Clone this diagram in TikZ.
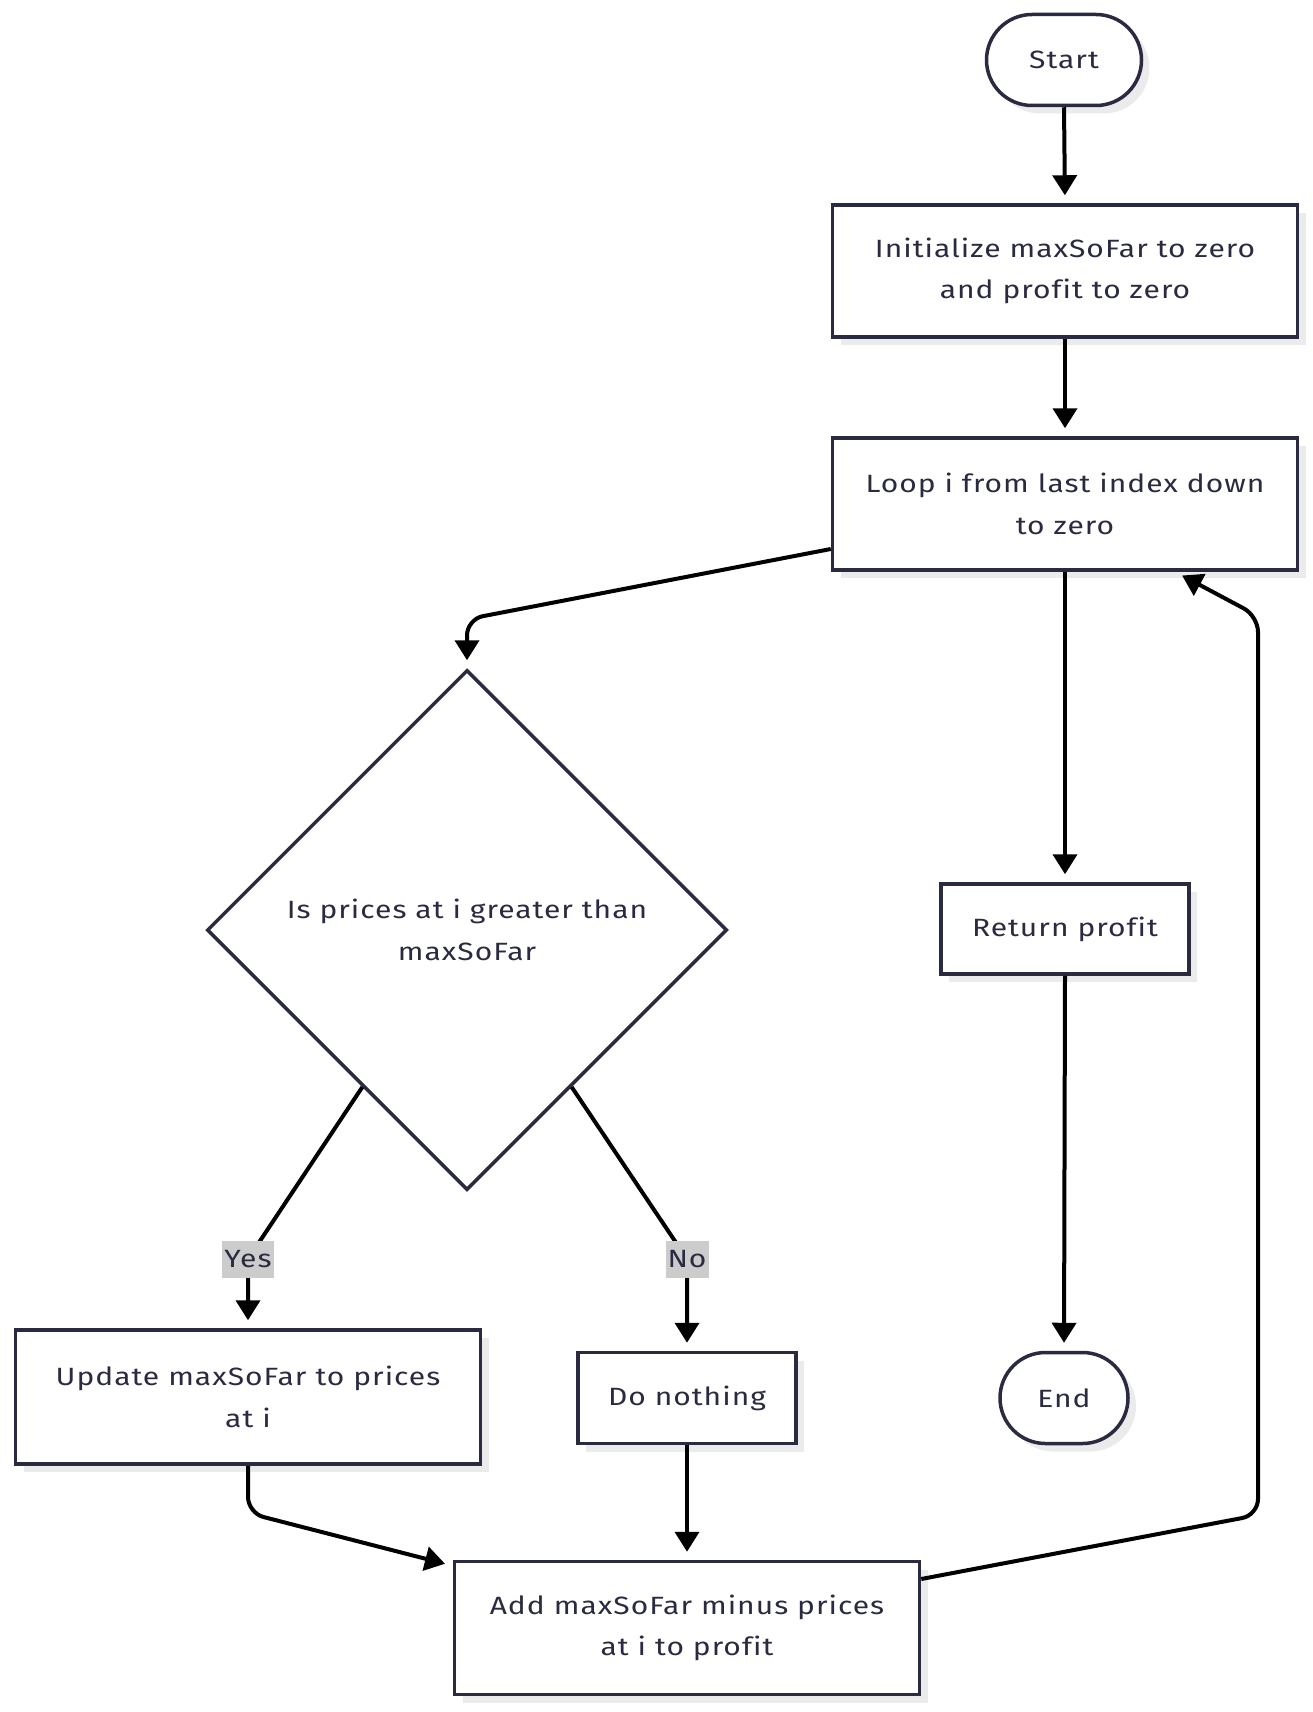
\documentclass[tikz,border=0pt]{standalone}
\usepackage{fontspec}
\setmainfont{Fira Sans}[FakeStretch=1.2, LetterSpace=4, Ligatures=NoCommon]
\usetikzlibrary{arrows.meta,shapes.geometric,shapes.misc,shadows,calc}
\definecolor{nodeline}{HTML}{2A2A40}
\definecolor{nodetext}{HTML}{2A2A40}
\definecolor{labelbg}{HTML}{CCCCCC}
\definecolor{shadowgray}{HTML}{EBEBEB}
\begin{document}
\begin{tikzpicture}[x=1pt,y=-1pt,
  every node/.style={font=\fontsize{25}{41.5}\selectfont, text=nodetext},
  shad/.style={drop shadow={shadow xshift=8pt, shadow yshift=-8pt, fill=shadowgray, opacity=1}},
  procbox/.style={rectangle, draw=nodeline, line width=3.5pt, fill=white, shad, align=center, inner sep=0pt},
  terminal/.style={rounded rectangle, draw=nodeline, line width=3.5pt, fill=white, shad, align=center, inner sep=0pt},
  decision/.style={diamond, draw=nodeline, line width=3.5pt, fill=white, align=center, inner sep=0pt,
    minimum width=520pt, minimum height=520pt},
  edgelabel/.style={fill=labelbg, inner xsep=2pt, inner ysep=0pt, minimum height=37pt},
  flow/.style={draw=black, line width=4pt, rounded corners=16pt,
    -{Triangle[length=20pt,width=24pt]}, shorten >=8pt},
]
\useasboundingbox (0,0) rectangle (1313,1712);

% nodes
\node[terminal, minimum width=155pt, minimum height=91pt] (start) at (1064,60) {Start};
\node[procbox, minimum width=465pt, minimum height=132pt] (init) at (1065,271)
  {Initialize maxSoFar to zero\\and profit to zero};
\node[procbox, minimum width=465pt, minimum height=132pt] (loop) at (1065,504)
  {Loop i from last index down\\to zero};
\node[decision] (dia) at (467,930) {Is prices at i greater than\\maxSoFar};
\node[procbox, minimum width=248pt, minimum height=90pt] (ret) at (1065,929) {Return profit};
\node[terminal, minimum width=128pt, minimum height=91pt] (end) at (1064,1398) {End};
\node[procbox, minimum width=465pt, minimum height=134pt] (upd) at (248,1397)
  {Update maxSoFar to prices\\at i};
\node[procbox, minimum width=218pt, minimum height=91pt] (none) at (687,1398) {Do nothing};
\node[procbox, minimum width=465pt, minimum height=133pt] (add) at (687,1628)
  {Add maxSoFar minus prices\\at i to profit};

% bend points and label positions
\coordinate (yespos) at (248,1259);
\coordinate (nopos) at (687,1259);
\coordinate (k1) at (248,1513);
\coordinate (k2) at (1258,1515);
\coordinate (k3) at (1258,616);

% connectors
\draw[flow] (start.south) -- (init.north);
\draw[flow] (init.south) -- (loop.north);
\draw[flow] ([yshift=-45pt]loop.west) -- ([yshift=49pt]dia.north) -- (dia.north);
\draw[flow] (loop.south) -- (ret.north);
\draw[flow] (ret.south) -- (end.north);
\draw[flow] ($(dia.west)!0.6!(dia.south)$) -- (yespos) -- (upd.north);
\draw[flow] ($(dia.east)!0.6!(dia.south)$) -- (nopos) -- (none.north);
\draw[flow] (upd.south) -- (k1) -- ([yshift=-6pt]add.north west);
\draw[flow] (none.south) -- (add.north);
\draw[flow] ([yshift=49pt]add.east) -- (k2) -- (k3) -- ([xshift=110pt]loop.south);

% edge labels
\node[edgelabel] (yes) at (yespos) {Yes};
\node[edgelabel] (no) at (nopos) {No};
\end{tikzpicture}
\end{document}
